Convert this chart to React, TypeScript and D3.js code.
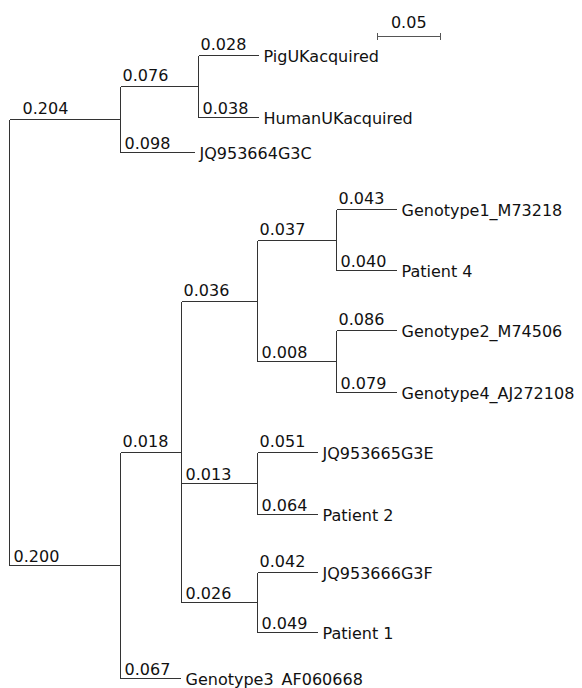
import React from "react";
import * as d3 from "d3";

// Tree topology (parent table), branch values as labelled, and branch lengths as drawn
const NODE_IDS = [
  "root", "A", "B", "PigUKacquired", "HumanUKacquired", "JQ953664G3C",
  "C", "D", "E", "F", "Genotype1_M73218", "Patient 4", "G", "Genotype2_M74506",
  "Genotype4_AJ272108", "H", "JQ953665G3E", "Patient 2", "I", "JQ953666G3F",
  "Patient 1", "Genotype3_AF060668",
];
const PARENT_IDS = [
  "", "root", "A", "B", "B", "A",
  "root", "C", "D", "E", "F", "F", "E", "G",
  "G", "D", "H", "H", "D", "I",
  "I", "C",
];
const BRANCH_VALUES = [
  null, 0.204, 0.076, 0.028, 0.038, 0.098,
  0.2, 0.018, 0.036, 0.037, 0.043, 0.04, 0.008, 0.086,
  0.079, 0.013, 0.051, 0.064, 0.026, 0.042,
  0.049, 0.067,
];
const DRAWN_LENGTHS = [
  0, 110.5, 78, 60, 60, 74,
  110.5, 61.5, 76, 78.5, 60.5, 60.5, 78.5, 60.5,
  60.5, 76, 59.5, 59.5, 76, 59.5,
  59.5, 60.5,
];
// Leaf rows (top to bottom) in row units
const LEAF_NAMES = [
  "PigUKacquired", "HumanUKacquired", "JQ953664G3C", "Genotype1_M73218", "Patient 4",
  "Genotype2_M74506", "Genotype4_AJ272108", "JQ953665G3E", "Patient 2", "JQ953666G3F",
  "Patient 1", "Genotype3_AF060668",
];
const LEAF_ROWS = [0, 1.1, 1.71, 2.72, 3.8, 4.86, 5.95, 7.01, 8.11, 9.12, 10.19, 11];
const SCALE_BAR_VALUE = 0.05;

const W = 582;
const H = 688;
const FONT = "'DejaVu Sans', Verdana, sans-serif";
const STROKE = "#333";

const px = (v: number) => Math.round(v - 0.5) + 0.5;

export default function App() {
  const table = NODE_IDS.map((id, i) => ({
    id,
    parentId: PARENT_IDS[i] || null,
    value: BRANCH_VALUES[i],
    drawn: DRAWN_LENGTHS[i],
  }));
  const root: any = d3
    .stratify<any>()
    .id((d: any) => d.id)
    .parentId((d: any) => d.parentId)(table);

  const xScale = d3.scaleLinear().domain([0, 400]).range([9.5, 409.5]);
  const yScale = d3.scaleLinear().domain([0, 11]).range([55.5, 678.5]);
  const sbScale = d3.scaleLinear().domain([0, SCALE_BAR_VALUE]).range([377.5, 440]);

  root.eachBefore((n: any) => {
    n.cum = (n.parent ? n.parent.cum : 0) + n.data.drawn;
    n.px = px(xScale(n.cum));
  });
  root.eachAfter((n: any) => {
    if (!n.children) {
      n.py = px(yScale(LEAF_ROWS[LEAF_NAMES.indexOf(n.id)]));
    } else {
      const f = n.children[0].py;
      const l = n.children[n.children.length - 1].py;
      n.py = px((f + l) / 2);
    }
  });

  const nodes: any[] = root.descendants();
  const elems: React.ReactNode[] = [];

  nodes.forEach((n: any, i: number) => {
    if (n.parent) {
      const first = n.parent.children[0] === n;
      elems.push(
        <line key={"h" + i} x1={n.parent.px} x2={n.px} y1={n.py} y2={n.py}
          stroke={STROKE} strokeWidth={1} />
      );
      const dx = n.parent.depth === 0 && first ? 13 : first ? 2 : 4;
      const dy = first ? -6 : -4;
      elems.push(
        <text key={"b" + i} x={n.parent.px + dx} y={n.py + dy}
          fontFamily={FONT} fontSize={16} fill="#111">
          {d3.format(".3f")(n.data.value)}
        </text>
      );
    }
    if (n.children) {
      const f = n.children[0].py;
      const l = n.children[n.children.length - 1].py;
      elems.push(
        <line key={"v" + i} x1={n.px} x2={n.px} y1={f} y2={l}
          stroke={STROKE} strokeWidth={1} />
      );
    } else {
      elems.push(
        <text key={"l" + i} x={n.px + 5} y={n.py + 6}
          fontFamily={FONT} fontSize={16} fill="#111">
          {n.id}
        </text>
      );
    }
  });

  const sb0 = sbScale(0);
  const sb1 = sbScale(SCALE_BAR_VALUE);
  const sbY = 36.5;

  return (
    <svg width={W} height={H} shapeRendering="crispEdges"
      style={{ position: "absolute", left: 0, top: 0, background: "#fff" }}>
      <rect x={0} y={0} width={W} height={H} fill="#fff" />
      {elems}
      <g>
        <line x1={sb0} x2={sb1} y1={sbY} y2={sbY} stroke="#555" strokeWidth={1.5} />
        <line x1={sb0} x2={sb0} y1={sbY - 3.5} y2={sbY + 3.5} stroke="#555" strokeWidth={1} />
        <line x1={sb1} x2={sb1} y1={sbY - 3.5} y2={sbY + 3.5} stroke="#555" strokeWidth={1} />
        <text x={(sb0 + sb1) / 2} y={28} textAnchor="middle" fontFamily={FONT}
          fontSize={16} fill="#111">
          {SCALE_BAR_VALUE.toFixed(2)}
        </text>
      </g>
    </svg>
  );
}
